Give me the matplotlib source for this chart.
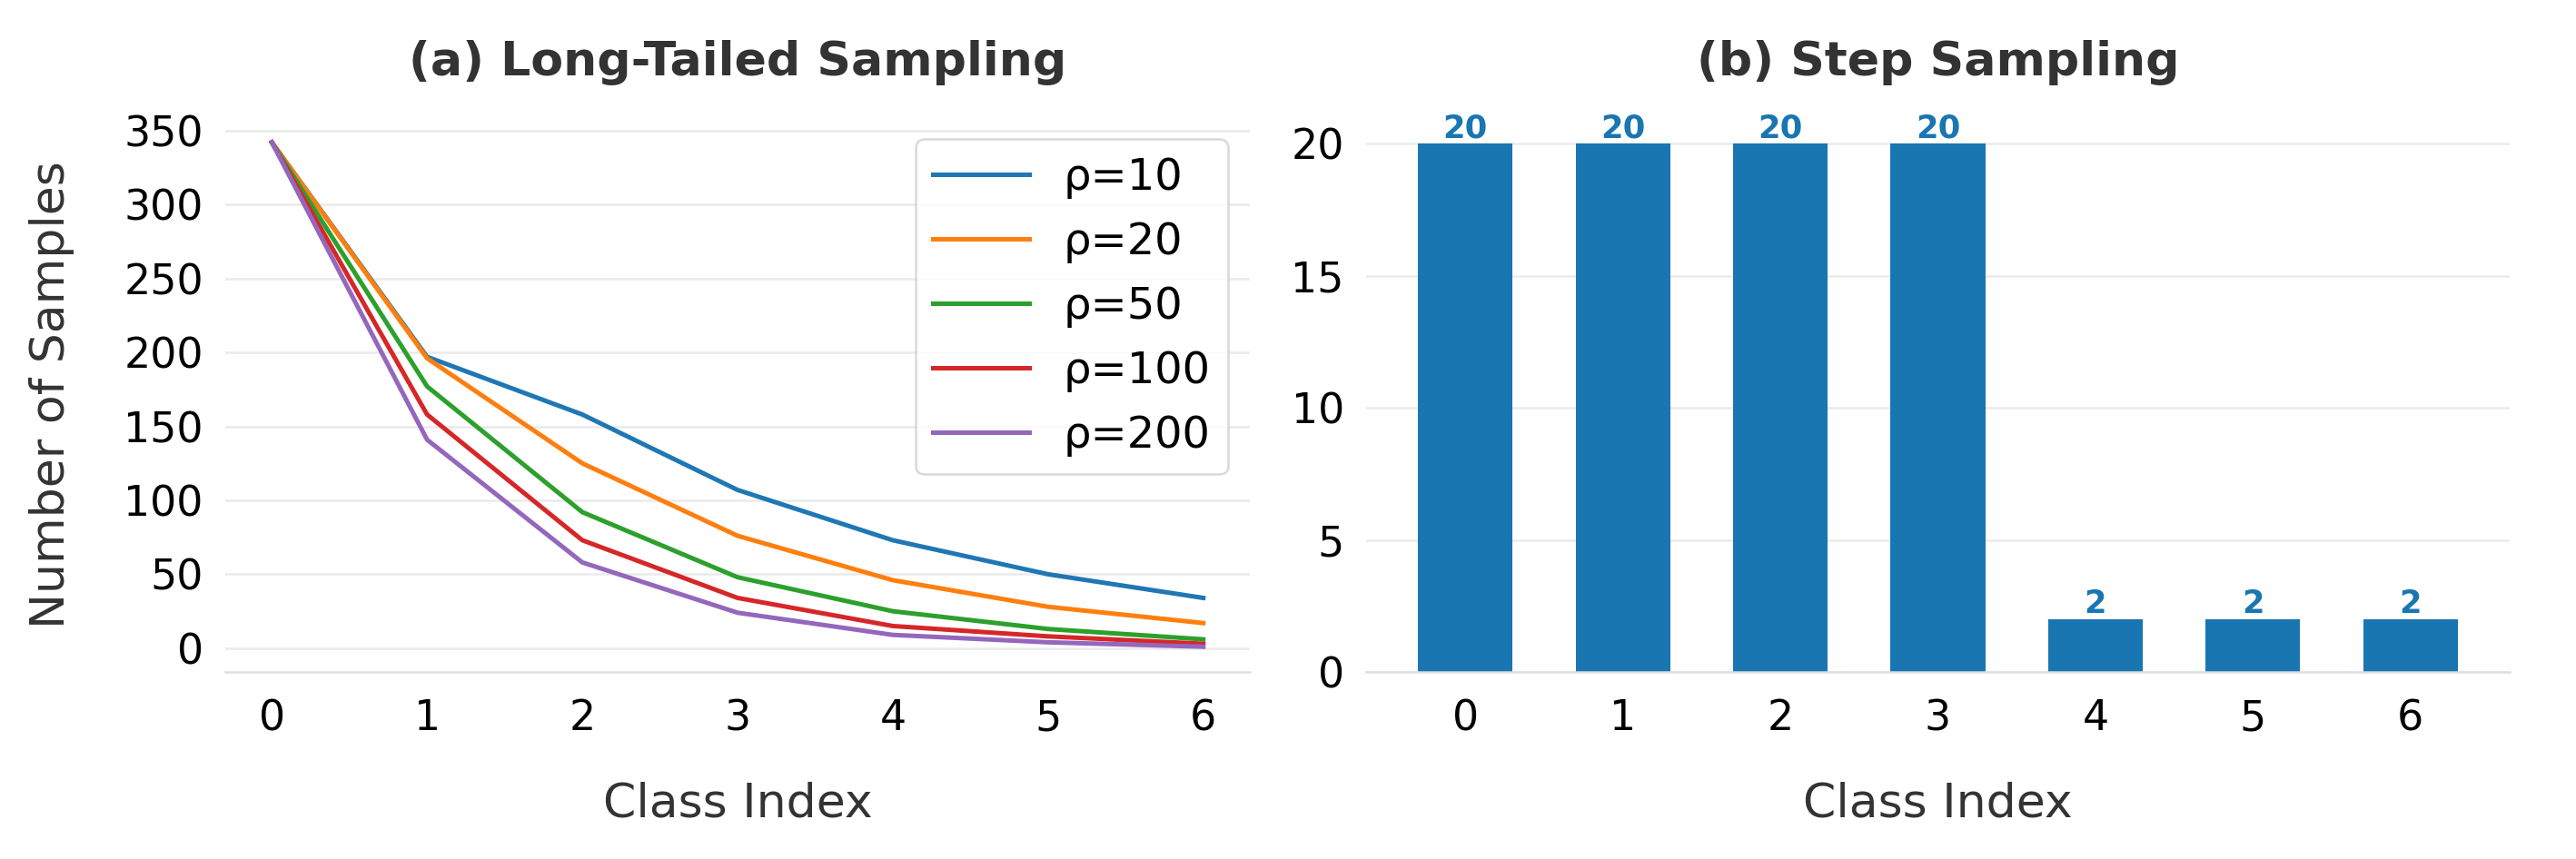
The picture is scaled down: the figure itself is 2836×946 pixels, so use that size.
import matplotlib
matplotlib.use("Agg")
import matplotlib.pyplot as plt

# ---- data ----
classes = [0, 1, 2, 3, 4, 5, 6]
rho_labels = ["ρ=10", "ρ=20", "ρ=50", "ρ=100", "ρ=200"]
rho10 = [342, 197, 158, 107, 73, 50, 34]
rho20 = [342, 196, 125, 76, 46, 28, 17]
rho50 = [342, 177, 92, 48, 25, 13, 6]
rho100 = [342, 158, 73, 34, 15, 8, 3]
rho200 = [342, 141, 58, 24, 9, 4, 1]
step_values = [20, 20, 20, 20, 2, 2, 2]

line_colors = ["#1f77b4", "#ff7f0e", "#2ca02c", "#d62728", "#9467bd"]
bar_color = "#1976b1"
text_dark = "#333333"

plt.rcParams['font.family'] = ['DejaVu Sans']

W, H, DPI = 2836, 946, 300
fig = plt.figure(figsize=(W / DPI, H / DPI), dpi=DPI)

def frac(x0, x1, top, bottom):
    return [x0 / W, (H - bottom) / H, (x1 - x0) / W, (bottom - top) / H]

ax1 = fig.add_axes(frac(248, 1376, 129, 740))
ax2 = fig.add_axes(frac(1504, 2763, 129, 740))

def style(ax):
    for s in ["top", "right", "left"]:
        ax.spines[s].set_visible(False)
    ax.spines["bottom"].set_color("#dedede")
    ax.spines["bottom"].set_linewidth(0.6)
    ax.tick_params(axis="both", length=0, labelsize=11, colors="black")
    ax.tick_params(axis="y", pad=5.8)
    ax.tick_params(axis="x", pad=7)
    ax.yaxis.grid(True, color="#ebebeb", linewidth=0.6)
    ax.xaxis.grid(False)
    ax.set_axisbelow(True)
    ax.set_facecolor("white")

# ---- (a) long-tailed ----
series = [rho10, rho20, rho50, rho100, rho200]
for vals, lab, col in zip(series, rho_labels, line_colors):
    ax1.plot(classes, vals, color=col, linewidth=1.2, label=lab)
style(ax1)
ax1.set_xticks(classes)
ax1.set_yticks([0, 50, 100, 150, 200, 250, 300, 350])
ax1.set_title("(a) Long-Tailed Sampling", fontsize=12.5, fontweight="bold",
              color=text_dark, pad=11)
ax1.set_xlabel("Class Index", fontsize=12.5, color=text_dark, labelpad=11)
ax1.set_ylabel("Number of Samples", fontsize=12.5, color=text_dark, labelpad=13)
leg = ax1.legend(loc="upper right", fontsize=11.5, handlelength=2.2,
                 labelspacing=0.5)
leg.get_frame().set_edgecolor("#d0d0d0")
leg.get_frame().set_linewidth(0.6)

# ---- (b) step ----
bars = ax2.bar(classes, step_values, width=0.6, color=bar_color)
style(ax2)
ax2.bar_label(bars, padding=0, fontsize=8.5, fontweight="bold", color=bar_color)
ax2.set_xticks(classes)
ax2.set_yticks([0, 5, 10, 15, 20])
ax2.set_title("(b) Step Sampling", fontsize=12.5, fontweight="bold",
              color=text_dark, pad=11)
ax2.set_xlabel("Class Index", fontsize=12.5, color=text_dark, labelpad=11)

fig.savefig("out.png", dpi=DPI, facecolor="white")
